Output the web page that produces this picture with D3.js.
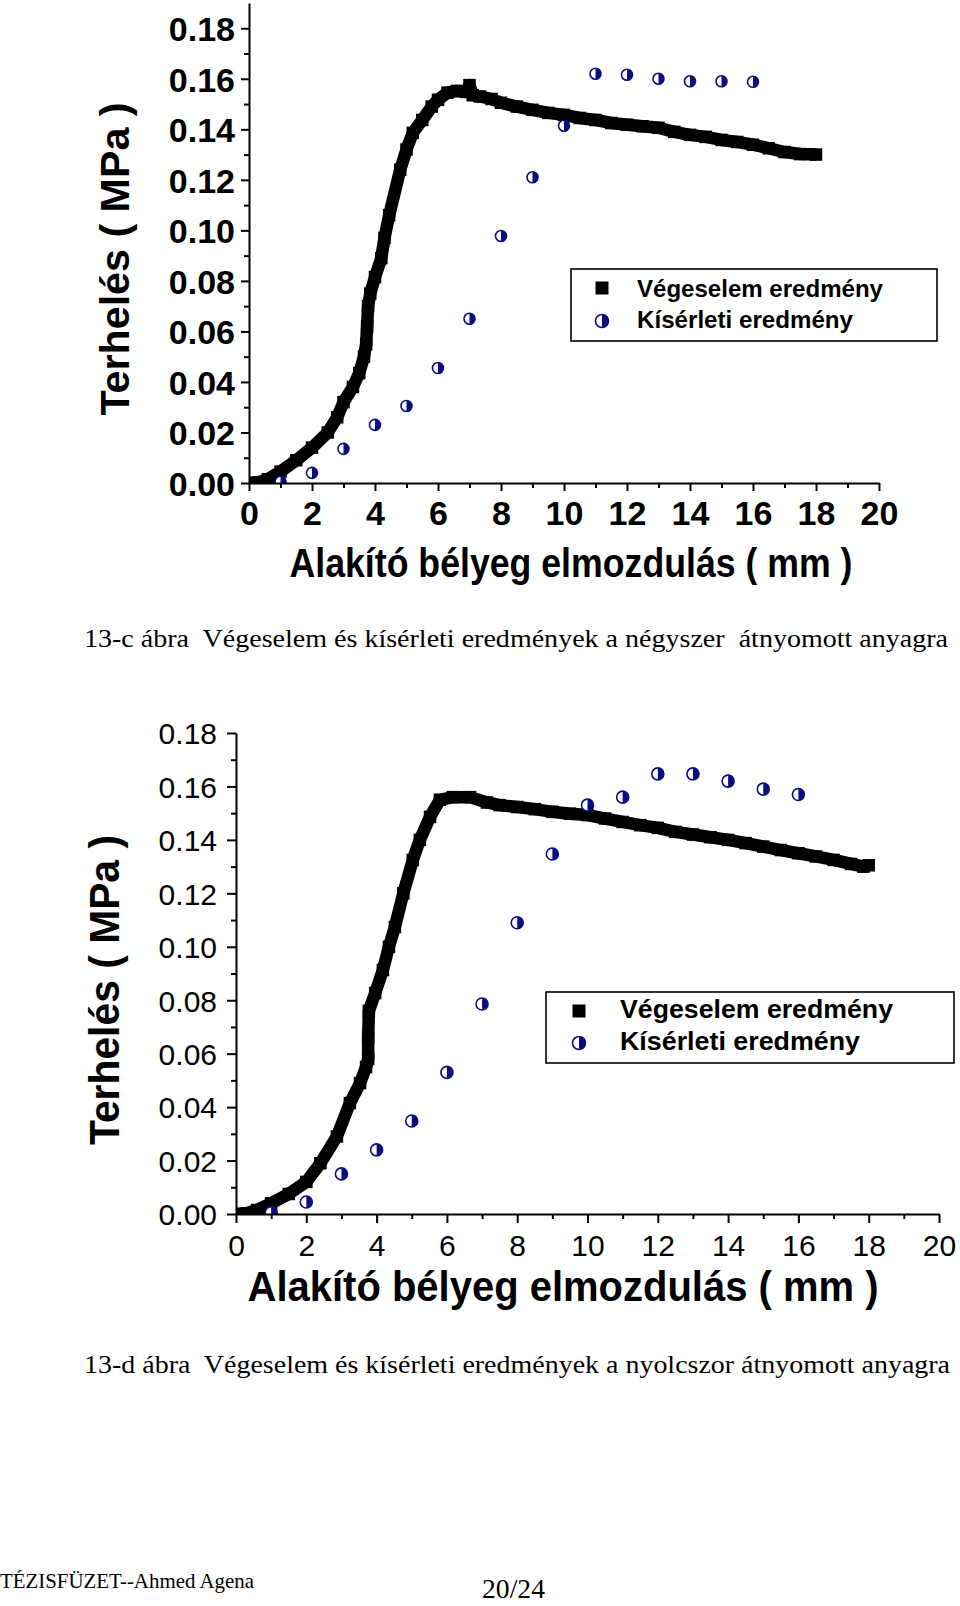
<!DOCTYPE html>
<html><head><meta charset="utf-8">
<script src="https://cdn.jsdelivr.net/npm/d3@7"></script>
<style>html,body{margin:0;padding:0;background:#fff;} svg{display:block}</style>
</head><body>
<svg id="page" width="960" height="1606"></svg>
<script>
// ---------- data ----------
const xTickValues = [0,2,4,6,8,10,12,14,16,18,20];
const xTickLabels = ["0","2","4","6","8","10","12","14","16","18","20"];
const xMinorValues = [1,3,5,7,9,11,13,15,17,19];
const yTickValues = [0,0.02,0.04,0.06,0.08,0.10,0.12,0.14,0.16,0.18];
const yTickLabels = ["0.00","0.02","0.04","0.06","0.08","0.10","0.12","0.14","0.16","0.18"];
const yMinorValues = [0.01,0.03,0.05,0.07,0.09,0.11,0.13,0.15,0.17];
const legendLabels = ["Végeselem eredmény","Kísérleti eredmény"];
const xTitle = "Alakító bélyeg elmozdulás ( mm )";
const yTitle = "Terhelés ( MPa )";
const captionC = "13-c ábra  Végeselem és kísérleti eredmények a négyszer  átnyomott anyagra";
const captionD = "13-d ábra  Végeselem és kísérleti eredmények a nyolcszor átnyomott anyagra";
const footerLeft = "TÉZISFÜZET--Ahmed Agena";
const footerPage = "20/24";

// 13-c: simulation (Végeselem)
const simXc = [0,0.3,0.6,1,1.5,2,2.5,2.8,3,3.3,3.5,3.65,3.72,3.75,3.78,3.85,4,4.2,4.3,4.45,4.8,5,5.2,5.5,5.8,6,6.3,6.6,6.9,7.0,7.1,7.33,7.7,8,8.5,9,9.5,10,10.5,11,11.5,12,12.5,13,13.5,14,14.5,15,15.5,16,16.5,17,17.5,18];
const simYc = [0,0.0003,0.0015,0.0045,0.009,0.014,0.020,0.026,0.032,0.038,0.0435,0.050,0.055,0.062,0.070,0.075,0.0815,0.089,0.097,0.106,0.124,0.132,0.1386,0.1437,0.149,0.1517,0.1545,0.1552,0.1548,0.1575,0.1535,0.153,0.152,0.1505,0.149,0.1477,0.1465,0.1457,0.1445,0.1437,0.1425,0.1418,0.1412,0.1406,0.139,0.1378,0.137,0.1358,0.135,0.1339,0.1325,0.131,0.1302,0.130];
// 13-c: experiment (Kísérleti)
const expXc = [1,2,3,4,5,6,7,8,9,10,11,12,13,14,15,16];
const expYc = [0.0005,0.004,0.0135,0.023,0.0305,0.0455,0.065,0.0978,0.121,0.1414,0.162,0.1616,0.160,0.159,0.159,0.1588];

// 13-d: simulation
const simXd = [0,0.3,0.6,1,1.5,2,2.4,2.87,3.24,3.53,3.7,3.76,3.76,3.78,3.96,4.18,4.35,4.52,4.76,5.03,5.23,5.52,5.8,6.17,6.66,7.14,7.5,8,8.5,9,9.5,10,10.5,11,11.5,12,12.5,13,13.5,14,14.5,15,15.5,16,16.5,17,17.5,17.85,18];
const simYd = [0,0.0003,0.0015,0.004,0.0075,0.012,0.019,0.029,0.0415,0.049,0.055,0.058,0.066,0.076,0.0827,0.0913,0.100,0.1074,0.120,0.1325,0.140,0.1486,0.155,0.156,0.156,0.154,0.153,0.1523,0.1515,0.1505,0.1498,0.1493,0.148,0.1467,0.1455,0.1445,0.143,0.142,0.141,0.140,0.1388,0.1375,0.1362,0.135,0.1338,0.1325,0.131,0.130,0.1305];
// 13-d: experiment
const expXd = [1,2,3,4,5,6,7,8,9,10,11,12,13,14,15,16];
const expYd = [0.0005,0.0045,0.015,0.024,0.0348,0.053,0.0786,0.109,0.1347,0.153,0.156,0.1647,0.1647,0.162,0.159,0.157];

// ---------- drawing ----------
const NAVY = "#0c0c80";
const SANS = "'Liberation Sans', Arial, sans-serif";
const SERIF = "'Liberation Serif', 'Times New Roman', serif";
const svg = d3.select("#page");

function halfCircle(g, cx, cy, r) {
  g.append("circle").attr("cx", cx).attr("cy", cy).attr("r", r)
    .attr("fill", "#fff").attr("stroke", NAVY).attr("stroke-width", 1.6);
  g.append("path")
    .attr("d", `M${cx},${cy - r} A${r},${r} 0 0 1 ${cx},${cy + r} Z`)
    .attr("fill", NAVY);
}

function drawChart(cfg) {
  const x = d3.scaleLinear().domain([0, 20]).range([cfg.x0, cfg.x1]);
  const y = d3.scaleLinear().domain([0, cfg.yMax]).range([cfg.y0, cfg.y1]);
  const g = svg.append("g");

  const clipId = cfg.id + "-clip";
  svg.append("clipPath").attr("id", clipId).append("rect")
    .attr("x", cfg.x0).attr("y", cfg.y1)
    .attr("width", cfg.x1 - cfg.x0).attr("height", cfg.y0 - cfg.y1);

  const plot = g.append("g").attr("clip-path", `url(#${clipId})`);

  // simulation band
  const sim = cfg.simX.map((v, i) => [v, cfg.simY[i]]);
  plot.append("path")
    .attr("d", d3.line().x(d => x(d[0])).y(d => y(d[1]))(sim))
    .attr("fill", "none").attr("stroke", "#000")
    .attr("stroke-width", cfg.sq).attr("stroke-linejoin", "round");
  plot.selectAll("rect.sim").data(sim).join("rect").attr("class", "sim")
    .attr("x", d => x(d[0]) - cfg.sq / 2).attr("y", d => y(d[1]) - cfg.sq / 2)
    .attr("width", cfg.sq).attr("height", cfg.sq).attr("fill", "#000");

  // experimental points
  cfg.expX.forEach((v, i) => halfCircle(plot, x(v), y(cfg.expY[i]), cfg.r));

  // axes
  const ax = g.append("g").attr("transform", `translate(0,${cfg.y0})`)
    .call(d3.axisBottom(x).tickValues(xTickValues).tickFormat((d, i) => xTickLabels[i])
      .tickSize(cfg.major).tickSizeOuter(0).tickPadding(cfg.xPad));
  const axm = g.append("g").attr("transform", `translate(0,${cfg.y0})`)
    .call(d3.axisBottom(x).tickValues(xMinorValues).tickFormat("").tickSize(cfg.minor));
  const ay = g.append("g").attr("transform", `translate(${cfg.x0},0)`)
    .call(d3.axisLeft(y).tickValues(yTickValues).tickFormat((d, i) => yTickLabels[i])
      .tickSize(cfg.major).tickSizeOuter(0).tickPadding(cfg.yPad));
  const aym = g.append("g").attr("transform", `translate(${cfg.x0},0)`)
    .call(d3.axisLeft(y).tickValues(yMinorValues).tickFormat("").tickSize(cfg.minor));
  [axm, aym].forEach(a => a.select(".domain").remove());
  [ax, axm, ay, aym].forEach(a => {
    a.selectAll("path,line").attr("stroke", "#000").attr("stroke-width", 2);
    a.selectAll("text").attr("fill", "#000").attr("font-family", SANS)
      .attr("font-size", cfg.tickFont).attr("font-weight", cfg.tickWeight);
  });
  ay.selectAll("text").attr("dy", "0.36em");

  // axis titles
  g.append("text").text(xTitle)
    .attr("x", cfg.xTitle[0]).attr("y", cfg.xTitle[1]).attr("text-anchor", "middle")
    .attr("font-family", SANS).attr("font-weight", "bold").attr("font-size", cfg.titleFont)
    .attr("textLength", cfg.xTitle[2]).attr("lengthAdjust", "spacingAndGlyphs");
  g.append("text").text(yTitle)
    .attr("transform", `translate(${cfg.yTitle[0]},${cfg.yTitle[1]}) rotate(-90)`)
    .attr("text-anchor", "middle")
    .attr("font-family", SANS).attr("font-weight", "bold").attr("font-size", cfg.titleFont)
    .attr("textLength", cfg.yTitle[2]).attr("lengthAdjust", "spacingAndGlyphs");

  // legend
  const L = cfg.legend;
  g.append("rect").attr("x", L.x).attr("y", L.y).attr("width", L.w).attr("height", L.h)
    .attr("fill", "#fff").attr("stroke", "#000").attr("stroke-width", 1.6);
  g.append("rect").attr("x", L.mx - L.ms / 2).attr("y", L.row1 - L.ms / 2)
    .attr("width", L.ms).attr("height", L.ms).attr("fill", "#000");
  halfCircle(g, L.mx, L.row2, L.mr);
  legendLabels.forEach((t, i) => {
    g.append("text").text(t).attr("x", L.tx).attr("y", L.base[i])
      .attr("font-family", SANS).attr("font-weight", "bold").attr("font-size", L.font)
      .attr("textLength", L.tl[i]).attr("lengthAdjust", "spacingAndGlyphs");
  });
}

drawChart({
  id: "c", x0: 249, x1: 879, y0: 483, y1: 3, yMax: 0.19,
  simX: simXc, simY: simYc, expX: expXc, expY: expYc, sq: 12.5, r: 5.5,
  major: 8, minor: 5, xPad: 10, yPad: 6,
  tickFont: 34, tickWeight: "bold", titleFont: 40,
  xTitle: [571, 577, 563], yTitle: [129, 259, 313],
  legend: { x: 571, y: 269, w: 366, h: 72, mx: 602, ms: 13, mr: 6.5, row1: 288, row2: 321,
            tx: 637, base: [297, 328], font: 24, tl: [246, 216] }
});

drawChart({
  id: "d", x0: 236, x1: 939, y0: 1214, y1: 733, yMax: 0.18,
  simX: simXd, simY: simYd, expX: expXd, expY: expYd, sq: 12.5, r: 6,
  major: 9, minor: 5, xPad: 12, yPad: 10,
  tickFont: 30, tickWeight: "normal", titleFont: 42,
  xTitle: [563, 1301, 631], yTitle: [119, 990, 310],
  legend: { x: 546, y: 992, w: 408, h: 71, mx: 579, ms: 13, mr: 6.5, row1: 1011, row2: 1043,
            tx: 620, base: [1018, 1050], font: 26, tl: [273, 240] }
});

// captions and footer
function plainText(t, x, yy, size, len) {
  const el = svg.append("text").text(t).attr("x", x).attr("y", yy)
    .attr("font-family", SERIF).attr("font-size", size).attr("fill", "#000")
    .style("white-space", "pre");
  if (len) el.attr("textLength", len).attr("lengthAdjust", "spacingAndGlyphs");
}
plainText(captionC, 84, 647, 26, 864);
plainText(captionD, 84, 1373, 26, 866);
plainText(footerLeft, 0, 1588, 21, 254);
plainText(footerPage, 482, 1598, 27, 63);
</script>
</body></html>
